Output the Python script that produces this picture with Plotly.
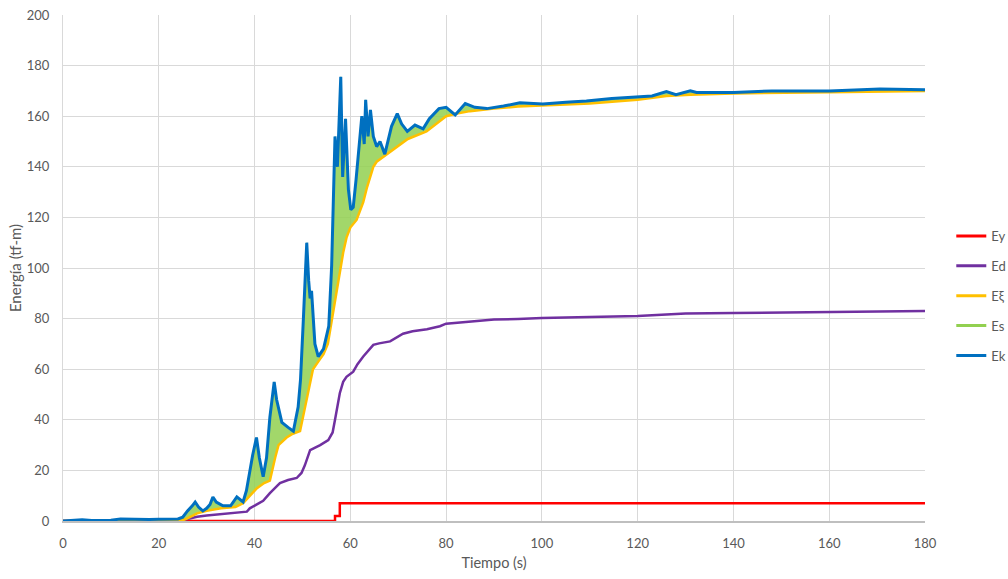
import plotly.graph_objects as go

# ---- data ----
ey_t = [0, 56.8, 57.8, 180]
ey_v = [0, 2, 7, 7]

ed_t = [0, 24, 26, 28, 30, 32, 35, 38.4, 39, 40, 41.8, 43.2, 44, 45.3, 47, 48.8, 49.8, 50.5,
        51.6, 53.7, 55.4, 56.3, 56.8, 57.8, 58.5, 59.2, 60.6, 61.5, 62.7, 64.8, 66, 68.3, 71,
        73, 76, 78.7, 80, 83, 86, 90, 95, 100, 110, 120, 125, 130, 140, 160, 180]
ed_v = [0, 0, 0.8, 1.7, 2.2, 2.6, 3, 3.7, 5, 6, 8, 11, 12.5, 15, 16.2, 17, 19, 22,
        28, 30, 32, 35, 40, 50.5, 55, 57, 59, 62, 65, 69.6, 70.2, 71, 74,
        75, 75.8, 77, 78, 78.5, 79.2, 79.6, 79.8, 80.2, 80.6, 81, 81.5, 82, 82.2, 82.5, 83]

exi_t = [0, 24, 25, 26, 28, 30, 33, 36, 37.6, 39, 40.5, 42, 43.2, 44.3, 45, 46.7, 48, 49.5,
         50.9, 52.2, 53.3, 54.4, 55.3, 56.1, 57.1, 57.8, 58.5, 59.2, 60, 61.3, 62.7, 63.5,
         64.8, 65.5, 67.6, 69.7, 72, 75.9, 78, 80, 82, 85, 90, 95, 100, 110, 120, 126, 131,
         140, 160, 180]
exi_v = [0, 0, 0.3, 1, 3, 4, 5, 5.5, 7, 10, 13, 15, 16, 25, 30, 33, 34.5, 35.5,
         48, 60, 63, 66, 70, 79, 90, 98, 106, 112, 116, 119, 126, 132,
         140, 142, 145, 148, 151, 154, 157, 160, 161, 162, 163, 163.8, 164.2, 165, 166.5, 168, 168.5,
         169, 169.5, 170]

ek_t = [0, 2, 4, 6, 8, 10, 12, 14, 16, 18, 20, 22, 24, 25, 26, 27, 27.6, 28.3, 29.2, 30, 30.7,
        31.3, 32, 33.4, 35, 36.3, 37, 37.6, 38.3, 39, 39.6, 40.4, 41, 41.8, 42.5, 43.2, 44.1,
        44.6, 45.7, 47, 48.1, 49.1, 49.6, 50.2, 50.9, 51.3, 51.6, 51.9, 52.6, 53.3, 54.4, 55.5,
        56.1, 56.8, 57.3, 58, 58.4, 59, 59.6, 60.1, 60.6, 61.2, 61.7, 62.4, 62.9, 63.2, 63.7,
        64.2, 64.8, 65.5, 66.2, 67.2, 68.6, 69.8, 70.7, 71.9, 73.5, 75.2, 76.5, 78.5, 80, 81.9,
        84, 86, 88.5, 92, 95.4, 100.2, 105, 109.3, 114.6, 120.5, 123, 126, 128, 131, 132.3, 140,
        148, 160, 170.6, 180]
ek_v = [0, 0.3, 0.5, 0.2, 0.2, 0.3, 0.8, 0.7, 0.6, 0.6, 0.7, 0.7, 0.8, 1.5, 4, 6, 7.5, 5.5, 4, 5, 6.5,
        9.5, 7.5, 6, 6, 9.5, 8.5, 7.5, 12, 20, 26, 33, 25, 17.5, 25, 41, 55,
        48, 39, 37, 35.5, 45, 56, 80, 110, 95, 88, 91, 70, 65, 68, 77,
        101, 152, 140, 175.6, 136, 159, 131, 123, 124, 135, 145, 160, 149, 166.5, 152,
        162.5, 152, 148, 150, 145, 156, 161, 157, 154, 156.5, 155, 159, 163, 163.5, 160.5,
        165, 163.5, 163, 164, 165.3, 164.8, 165.5, 166, 167, 167.7, 168, 169.7, 168.5, 170, 169.4, 169.4,
        170, 170, 170.8, 170.5]

# Es oscillates between Eξ and the upper envelope below
es_t = list(ek_t)
es_v = [0, 0.3, 0.5, 0.2, 0.2, 0.3, 0.8, 0.7, 0.6, 0.6, 0.7, 0.7, 0.8, 1.5, 4, 6, 7.5, 5.5, 4, 5, 6.5,
        9.5, 7.5, 6, 6, 9.5, 8.5, 7.5, 12, 20, 26, 33, 25, 17.5, 25, 41, 55,
        48, 39, 37, 35.5, 45, 56, 80, 110, 95, 88, 91, 70, 65, 68, 77,
        101, 152, 140, 175.6, 136, 159, 131, 123, 124, 135, 145, 160, 149, 166.5, 152,
        162.5, 152, 148, 150, 145, 156, 161, 157, 154, 156.5, 155, 159, 163, 163.5, 160.5,
        165, 163.5, 163, 164, 165.3, 164.8, 165.5, 166, 167, 167.7, 168, 169.7, 168.5, 170, 169.4, 169.4,
        170, 170, 170.8, 170.5]

names = ["Ey", "Ed", "Eξ", "Es", "Ek"]
colors = ["#FF0000", "#7030A0", "#FFC000", "#92D050", "#0070C0"]

fig = go.Figure()
fig.add_trace(go.Scatter(x=ey_t, y=ey_v, mode="lines", line=dict(color=colors[0], width=2.5, shape="hv"),
                         showlegend=False))
fig.add_trace(go.Scatter(x=ed_t, y=ed_v, mode="lines", line=dict(color=colors[1], width=2.5),
                         showlegend=False))
fig.add_trace(go.Scatter(x=exi_t, y=exi_v, mode="lines", line=dict(color=colors[2], width=2.5),
                         showlegend=False))
fig.add_trace(go.Scatter(x=es_t, y=es_v, mode="lines", line=dict(color=colors[3], width=0.5),
                         fill="tonexty", fillcolor="rgba(146,208,80,0.85)", showlegend=False))
fig.add_trace(go.Scatter(x=ek_t, y=ek_v, mode="lines", line=dict(color=colors[4], width=3),
                         showlegend=False))

for i, (n, c) in enumerate(zip(names, colors)):
    fig.add_trace(go.Scatter(x=[None], y=[None], mode="lines", name=n,
                             line=dict(color=c, width=3), legendgroup=f"g{i}", showlegend=True))

font_fam = "Lato, 'Open Sans', sans-serif"
fig.update_layout(
    width=1008, height=579,
    margin=dict(l=63, r=83, t=15, b=58, autoexpand=False),
    plot_bgcolor="white", paper_bgcolor="white",
    font=dict(family=font_fam, size=13, color="#595959"),
    legend=dict(x=1.0305, xanchor="left", y=0.593, yanchor="top", traceorder="grouped",
                tracegroupgap=10, font=dict(size=13, color="#595959"), bgcolor="rgba(0,0,0,0)"),
    xaxis=dict(range=[0, 180], dtick=20, tick0=0, showgrid=True, gridcolor="#D9D9D9", gridwidth=1,
               zeroline=False, showline=True, linecolor="#BFBFBF", linewidth=1.5,
               ticks="", ticklabelstandoff=10,
               title=dict(text="Tiempo (s)", font=dict(size=14.5, color="#595959"), standoff=8)),
    yaxis=dict(range=[0, 200], dtick=20, tick0=0, showgrid=True, gridcolor="#D9D9D9", gridwidth=1,
               zeroline=False, showline=True, linecolor="#D9D9D9", linewidth=1,
               ticks="", ticklabelstandoff=10,
               title=dict(text="Energía (tf-m)", font=dict(size=15, color="#595959"), standoff=1)),
)

fig.write_html("out.html")
